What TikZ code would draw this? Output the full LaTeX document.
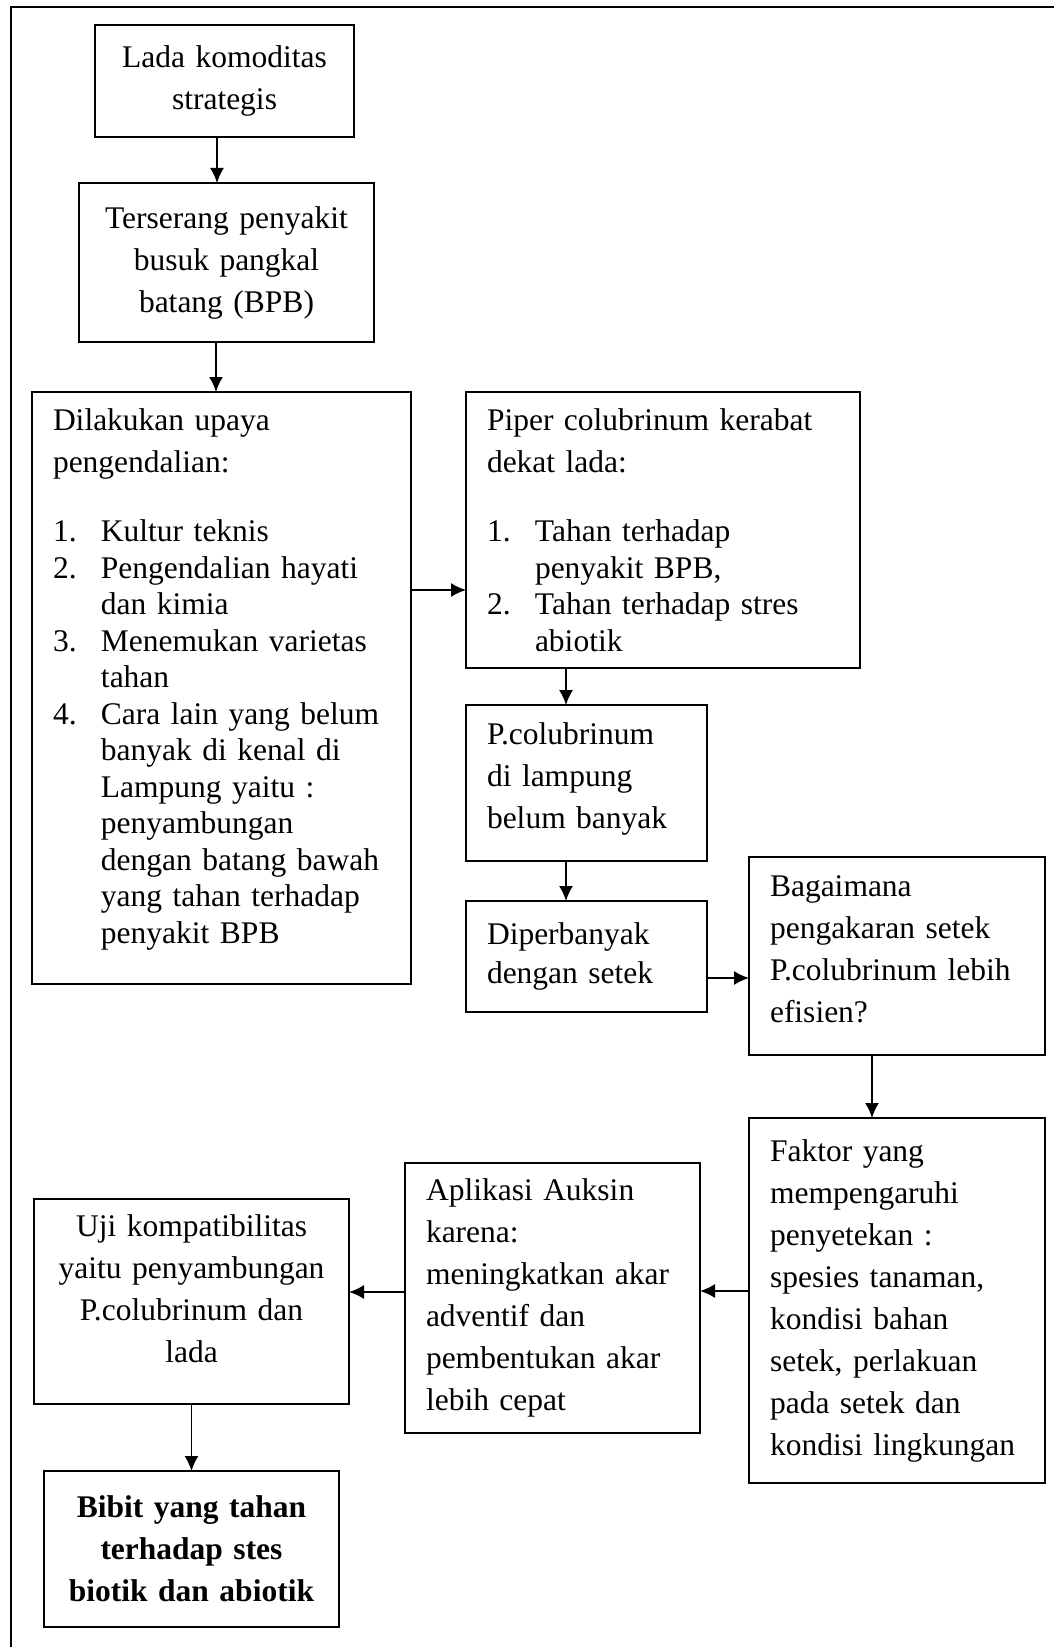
\documentclass[tikz,border=0pt]{standalone}
\usepackage{fontspec}
\setmainfont{Liberation Serif}
\usepackage{tikz}
\usetikzlibrary{arrows.meta}
\tikzset{>={Latex[length=7.5pt,width=7pt]}}
\tikzset{
  box/.style={draw, rectangle, line width=0.8pt, anchor=north west,
    inner xsep=10.5pt, inner ysep=0pt, outer sep=0pt,
    font=\fontsize{15.75pt}{21pt}\selectfont},
  boxl/.style={box, align=left},
  boxc/.style={box, align=center},
  link/.style={->, line width=0.8pt}
}
\newcommand{\lnum}[1]{\makebox[24pt][l]{#1}}
\newcommand{\lcont}{\hspace*{24pt}}
% deeper last line, lifts the text in its box
\newcommand{\liftby}[1]{\rule[-#1]{0pt}{0pt}}

\begin{document}
\begin{tikzpicture}[x=0.5pt,y=-0.5pt]
  \useasboundingbox (0,0) rectangle (1054,1647);
  % frame
  \draw[line width=1pt] (11,1647) -- (11,7) -- (1054,7);

  % boxes
  \node[boxc, minimum width=129.5pt, minimum height=56pt, text width=108.5pt]
    (lada) at (95,25) {Lada komoditas\\strategis};
  \node[boxc, minimum width=147.5pt, minimum height=79.5pt, text width=126.5pt]
    (ters) at (79,183) {Terserang penyakit\\busuk pangkal\\batang (BPB)};
  \node[boxl, minimum width=189.5pt, minimum height=296pt, text width=168.5pt]
    (dil) at (32,392) {Dilakukan upaya\\
      pengendalian:\\[13.5pt]
      \lnum{1.}Kultur teknis\\[-2.75pt]
      \lnum{2.}Pengendalian hayati\\[-2.75pt]
      \lcont dan kimia\\[-2.75pt]
      \lnum{3.}Menemukan varietas\\[-2.75pt]
      \lcont tahan\\[-2.75pt]
      \lnum{4.}Cara lain yang belum\\[-2.75pt]
      \lcont banyak di kenal di\\[-2.75pt]
      \lcont Lampung yaitu :\\[-2.75pt]
      \lcont penyambungan\\[-2.75pt]
      \lcont dengan batang bawah\\[-2.75pt]
      \lcont yang tahan terhadap\\[-2.75pt]
      \lcont penyakit BPB\liftby{11.8pt}};
  \node[boxl, minimum width=197pt, minimum height=138pt, text width=176pt]
    (pip) at (466,392) {Piper colubrinum kerabat\\
      dekat lada:\\[13.5pt]
      \lnum{1.}Tahan terhadap\\[-2.75pt]
      \lcont penyakit BPB,\\[-2.75pt]
      \lnum{2.}Tahan terhadap stres\\[-2.75pt]
      \lcont abiotik};
  \node[boxl, minimum width=120.5pt, minimum height=78pt, text width=99.5pt]
    (pcol) at (466,705) {P.colubrinum\\di lampung\\belum banyak\liftby{7.6pt}};
  \node[boxl, minimum width=120.5pt, minimum height=55.5pt, text width=99.5pt]
    (dip) at (466,901) {Diperbanyak\\[-1.3pt]dengan setek};
  \node[boxl, minimum width=148pt, minimum height=99pt, text width=127pt]
    (bag) at (749,857) {Bagaimana\\pengakaran setek\\P.colubrinum lebih\\efisien?\liftby{7.4pt}};
  \node[boxl, minimum width=148pt, minimum height=182.5pt, text width=127pt]
    (fak) at (749,1118) {Faktor yang\\mempengaruhi\\penyetekan :\\spesies tanaman,\\
      kondisi bahan\\setek, perlakuan\\pada setek dan\\kondisi lingkungan};
  \node[boxl, minimum width=147.5pt, minimum height=135pt, text width=126.5pt]
    (apl) at (405,1163) {Aplikasi Auksin\\karena:\\meningkatkan akar\\adventif dan\\
      pembentukan akar\\lebih cepat};
  \node[boxc, minimum width=157.5pt, minimum height=102.5pt, text width=136.5pt]
    (uji) at (34,1199) {Uji kompatibilitas\\yaitu penyambungan\\P.colubrinum dan\\lada\liftby{12.6pt}};
  \node[boxc, minimum width=147.5pt, minimum height=78pt, text width=126.5pt,
    font=\fontsize{15.75pt}{21pt}\selectfont\bfseries]
    (bib) at (44,1471) {Bibit yang tahan\\terhadap stes\\biotik dan abiotik};

  % arrows
  \coordinate (a1) at ([xshift=-3.75pt]lada.south);
  \draw[link] (a1) -- (a1 |- ters.north);
  \coordinate (a2) at ([xshift=-5.25pt]ters.south);
  \draw[link] (a2) -- (a2 |- dil.north);
  \coordinate (a3) at ([yshift=-30pt]pip.west);
  \draw[link] (a3 -| dil.east) -- (a3);
  \coordinate (a4) at ([xshift=-10.25pt]pcol.north);
  \draw[link] (a4 |- pip.south) -- (a4);
  \coordinate (a5) at ([xshift=-10.25pt]dip.north);
  \draw[link] (a5 |- pcol.south) -- (a5);
  \coordinate (a6) at ([yshift=-10.75pt]dip.east);
  \draw[link] (a6) -- (a6 -| bag.west);
  \coordinate (a7) at ([xshift=-12.5pt]fak.north);
  \draw[link] (a7 |- bag.south) -- (a7);
  \coordinate (a8) at ([yshift=4.75pt]fak.west);
  \draw[link] (a8) -- (a8 -| apl.east);
  \coordinate (a9) at ([yshift=4.75pt]uji.east);
  \draw[link] (a9 -| apl.west) -- (a9);
  \draw[link] (uji.south) -- (bib.north);

\end{tikzpicture}
\end{document}
